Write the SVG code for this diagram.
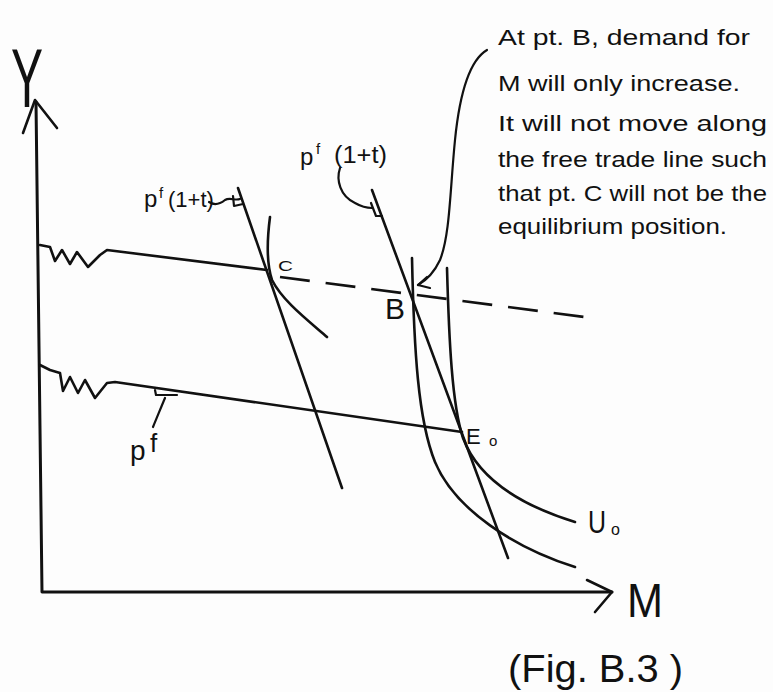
<svg xmlns="http://www.w3.org/2000/svg" width="773" height="692" viewBox="0 0 773 692">
<style>
.ln{fill:none;stroke:#111;stroke-width:2.6;stroke-linecap:round;stroke-linejoin:round}
.thin{fill:none;stroke:#111;stroke-width:2.2;stroke-linecap:round;stroke-linejoin:round}
.dash{fill:none;stroke:#111;stroke-width:2.6;stroke-dasharray:30 16}
.t{font-family:"Liberation Sans","DejaVu Sans",sans-serif;fill:#111}
</style>
<rect width="773" height="692" fill="#fdfdfd"/>
<g id="axes">
  <path class="ln" d="M36,102 L42,592 L612,592" style="stroke-width:3"/>
  <path class="ln" d="M23,133 L35,100 L57,128"/>
  <path class="ln" d="M587,580 L612,592 L595,612"/>
  <text class="t" x="11" y="107" font-size="84" textLength="32" lengthAdjust="spacingAndGlyphs">Y</text>
  <text class="t" x="627" y="617" font-size="48" textLength="36" lengthAdjust="spacingAndGlyphs">M</text>
</g>
<g id="connectors">
  <path id="tariff-line" class="ln" d="M40,245 L50,247 L55,261 L62,250 L70,264 L77,252 L88,267 L100,255 L107,250 L267,270"/>
  <path id="free-trade-dashed" class="dash" d="M280,277 L592,318"/>
  <path id="pf-line" class="ln" d="M40,365 L50,370 L60,373 L63,391 L70,377 L78,393 L85,380 L95,398 L107,383 L115,382 L462,432"/>
  <path id="price-line-C" class="ln" d="M238,188 L342,488"/>
  <path id="price-line-B" class="ln" d="M372,190 L508,558"/>
  <path id="curve-C" class="ln" d="M270,217 C267,240 266,262 272,280 C282,300 305,318 327,337"/>
  <path id="curve-B" class="ln" d="M412,258 C414,350 418,420 435,462 C455,510 515,548 575,567"/>
  <path id="curve-U0" class="ln" d="M447,268 C449,340 452,405 463,438 C478,478 520,505 575,522"/>
  <path id="annot-arrow" class="thin" d="M487,50 C470,60 460,90 455,140 C450,190 450,235 440,260 C433,275 425,281 418,285"/>
  <path class="thin" d="M427,277 L418,285 L430,288"/>
</g>
<g id="label-pf-left">
  <text class="t" x="144" y="207" font-size="24">p</text>
  <text class="t" x="159" y="198" font-size="15">f</text>
  <text class="t" x="168" y="207" font-size="22">(1+t)</text>
  <path class="thin" d="M209,202 C215,206 220,204 225,200 C230,197 235,201 240,199"/>
  <path class="thin" d="M233,196 L234,206 L243,204"/>
</g>
<g id="label-pf-right">
  <text class="t" x="300" y="165" font-size="24">p</text>
  <text class="t" x="316" y="154" font-size="15">f</text>
  <text class="t" x="334" y="163" font-size="23" textLength="53" lengthAdjust="spacingAndGlyphs">(1+t)</text>
  <path class="thin" d="M340,168 C336,180 340,196 355,203 C362,207 367,208 372,208"/>
  <path class="thin" d="M371,203 L376,216 L382,216"/>
</g>
<g id="label-pf-bottom">
  <path class="thin" d="M155,390 L156,395 L177,395"/>
  <path class="thin" d="M165,398 C162,405 158,415 153,427"/>
  <text class="t" x="130" y="460" font-size="28">p</text>
  <text class="t" x="150" y="452" font-size="26">f</text>
</g>
<g id="point-C">
  <text class="t" x="278" y="271" font-size="15" textLength="15" lengthAdjust="spacingAndGlyphs">C</text>
</g>
<g id="point-B">
  <text class="t" x="385" y="319" font-size="30" textLength="20" lengthAdjust="spacingAndGlyphs">B</text>
</g>
<g id="point-E0">
  <text class="t" x="466" y="444" font-size="22">E</text>
  <text class="t" x="489" y="446" font-size="15">o</text>
</g>
<g id="label-U0">
  <text class="t" x="588" y="533" font-size="32" textLength="18" lengthAdjust="spacingAndGlyphs">U</text>
  <text class="t" x="611" y="535" font-size="16">o</text>
</g>
<g id="note">
  <text class="t" font-size="22" x="498" y="45" textLength="252" lengthAdjust="spacingAndGlyphs">At pt. B, demand for</text>
  <text class="t" font-size="22" x="498" y="91" textLength="242" lengthAdjust="spacingAndGlyphs">M will only increase.</text>
  <text class="t" font-size="22" x="498" y="131" textLength="269" lengthAdjust="spacingAndGlyphs">It will not move along</text>
  <text class="t" font-size="22" x="498" y="167" textLength="269" lengthAdjust="spacingAndGlyphs">the free trade line such</text>
  <text class="t" font-size="22" x="498" y="201" textLength="269" lengthAdjust="spacingAndGlyphs">that pt. C will not be the</text>
  <text class="t" font-size="22" x="498" y="234" textLength="229" lengthAdjust="spacingAndGlyphs">equilibrium position.</text>
</g>
<g id="caption">
  <text class="t" x="508" y="682" font-size="38" textLength="175" lengthAdjust="spacingAndGlyphs">(Fig. B.3 )</text>
</g>
</svg>
